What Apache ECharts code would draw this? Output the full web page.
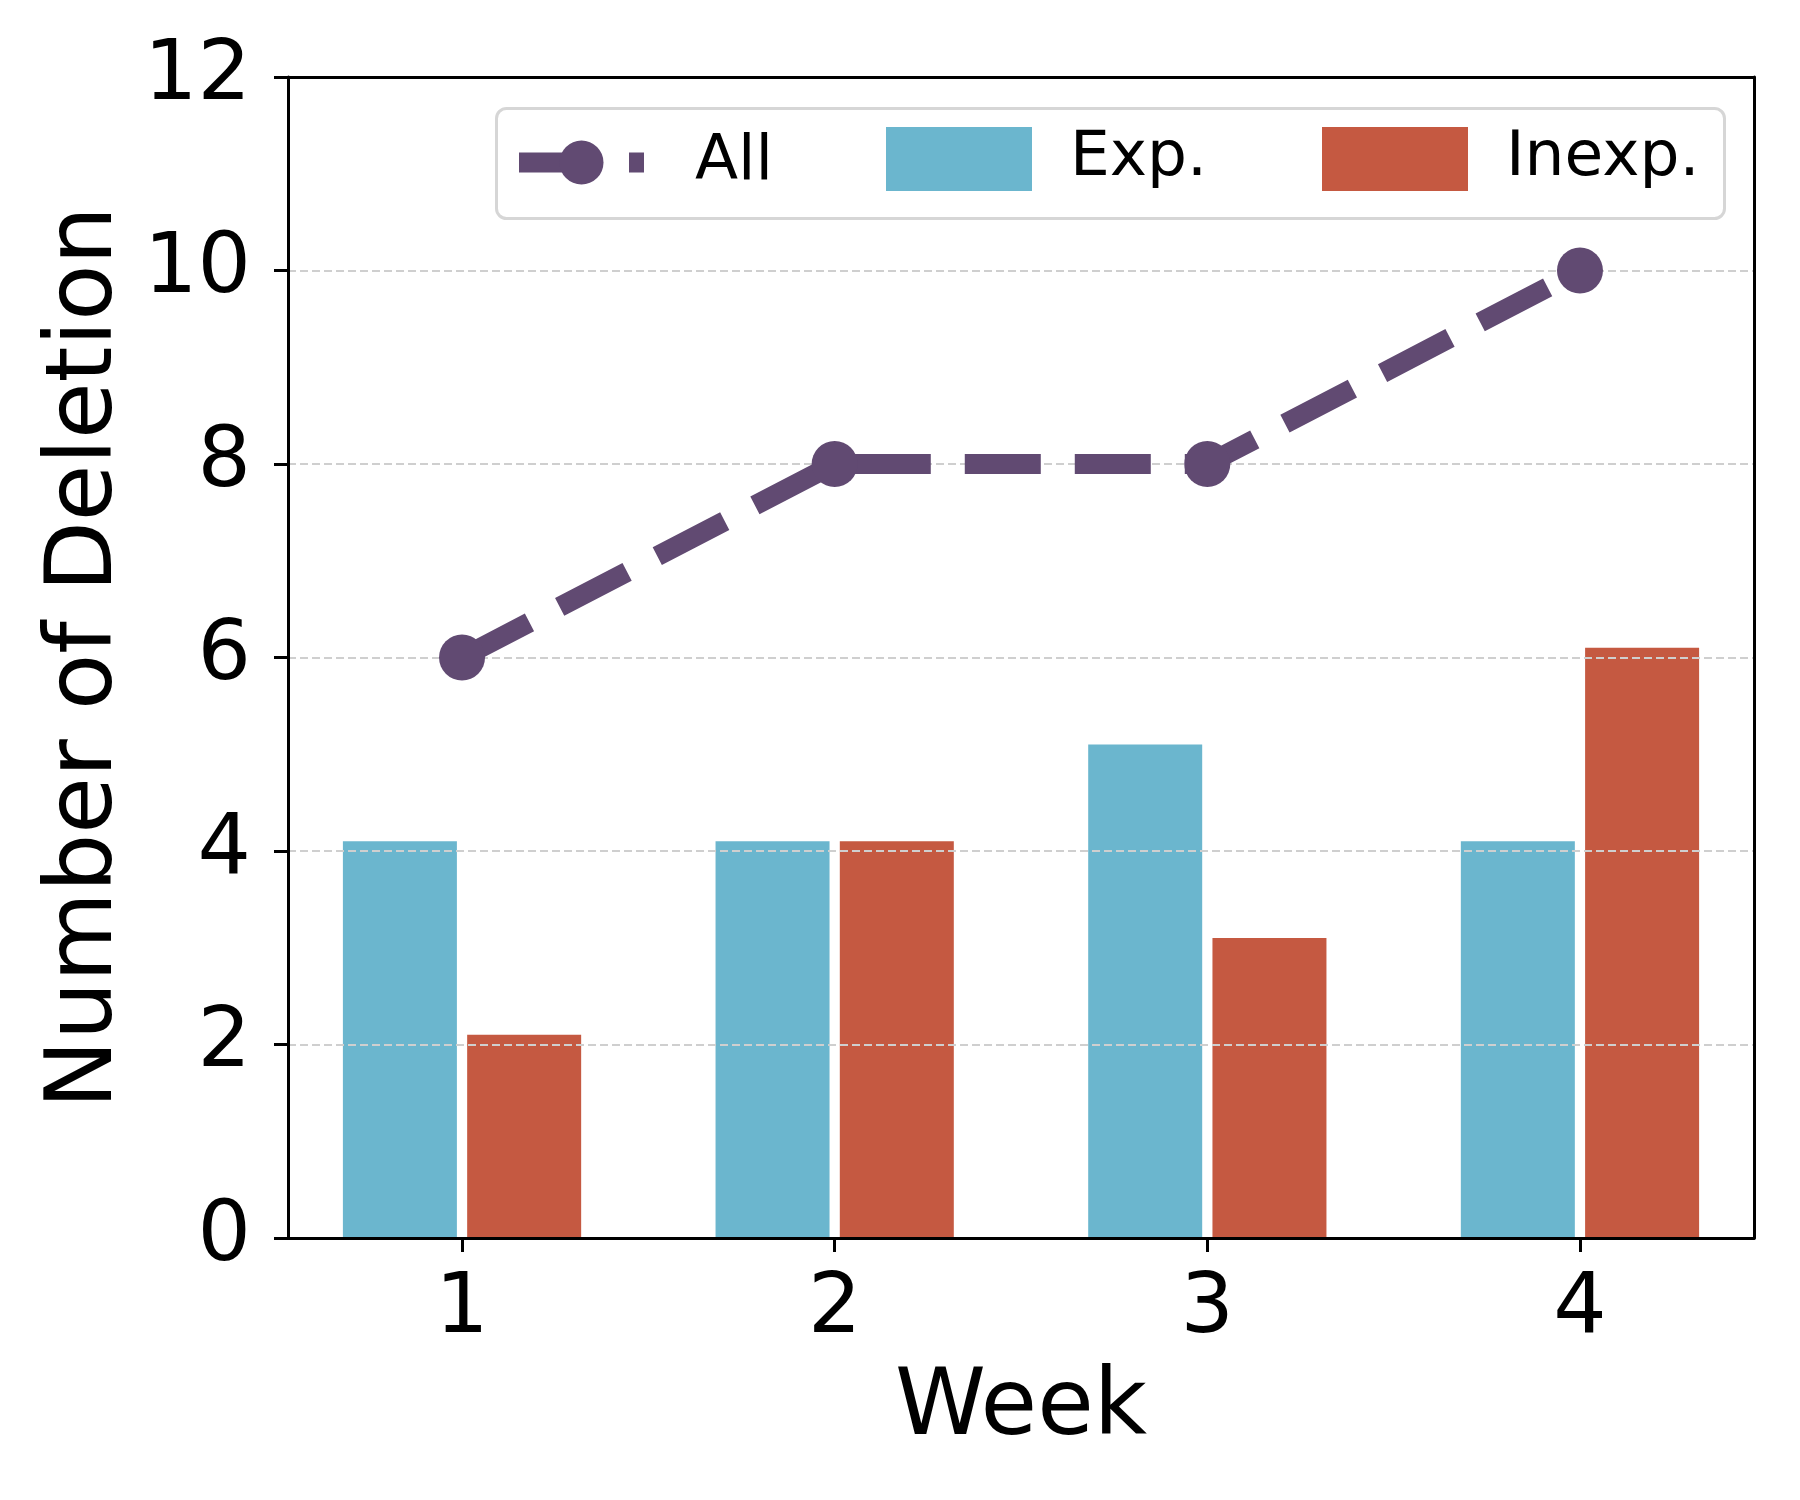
<!DOCTYPE html>
<html><head><meta charset="utf-8">
<script src="https://cdn.jsdelivr.net/npm/echarts@6/dist/echarts.min.js"></script>
<style>html,body{margin:0;padding:0;background:#fff}#c{width:1800px;height:1500px}</style>
</head><body><div id="c"></div>
<script>
const weeks = [1, 2, 3, 4];
const allValues = [6, 8, 8, 10];
const expValues = [4.1, 4.1, 5.1, 4.1];
const inexpValues = [2.1, 4.1, 3.1, 6.1];
const seriesNames = ['All', 'Exp.', 'Inexp.'];
const FONT = 'DejaVu Sans';
const C_ALL = '#614A72', C_EXP = '#6BB6CE', C_INEXP = '#C55941';

const chart = echarts.init(document.getElementById('c'), null, {renderer: 'canvas'});
const legendText = (pl) => ({fontFamily: FONT, fontSize: 63, color: '#000', padding: [0, 0, 0, pl]});
const frameAxisLine = {show: true, onZero: false, lineStyle: {color: '#000', width: 3}};
chart.setOption({
  backgroundColor: '#fff',
  animation: false,
  grid: {left: 288, right: 46, top: 77, bottom: 262},
  graphic: [{
    type: 'rect', left: 495, top: 107, z: 3,
    shape: {width: 1228, height: 110, r: 10},
    style: {fill: 'rgba(255,255,255,0.85)', stroke: '#d6d6d6', lineWidth: 3}
  }],
  legend: [
    {data: [seriesNames[0]], left: 509, top: 131, padding: 0, itemWidth: 125, itemHeight: 55, selectedMode: false, z: 5,
     lineStyle: {width: 20, type: [76, 34], color: C_ALL, cap: 'butt'}, textStyle: legendText(46)},
    {data: [seriesNames[1]], left: 886, top: 127, padding: 0, itemWidth: 146, itemHeight: 64, icon: 'rect', selectedMode: false, z: 5, textStyle: legendText(33)},
    {data: [seriesNames[2]], left: 1322, top: 127, padding: 0, itemWidth: 146, itemHeight: 64, icon: 'rect', selectedMode: false, z: 5, textStyle: legendText(33)}
  ],
  xAxis: [{
    type: 'value', min: 0.533, max: 4.467, z: 3,
    name: 'Week', nameLocation: 'middle', nameGap: 126,
    nameTextStyle: {fontFamily: FONT, fontSize: 92, color: '#000'},
    axisLine: frameAxisLine,
    axisTick: {show: true, length: 14, lineStyle: {color: '#000', width: 3}, customValues: weeks},
    axisLabel: {fontFamily: FONT, fontSize: 84, color: '#000', margin: 30, customValues: weeks},
    splitLine: {show: false}
  }, {
    type: 'value', position: 'top', min: 0.533, max: 4.467, z: 4,
    axisLine: frameAxisLine, axisTick: {show: false}, axisLabel: {show: false}, splitLine: {show: false}
  }],
  yAxis: [{
    type: 'value', min: 0, max: 12, interval: 2, z: 3,
    name: 'Number of Deletion', nameLocation: 'middle', nameGap: 148,
    nameTextStyle: {fontFamily: FONT, fontSize: 92, color: '#000'},
    axisLine: frameAxisLine,
    axisTick: {show: true, length: 14, lineStyle: {color: '#000', width: 3}},
    axisLabel: {fontFamily: FONT, fontSize: 84, color: '#000', margin: 37},
    splitLine: {show: true, lineStyle: {color: '#cfcfcf', width: 2, type: [8, 4]}}
  }, {
    type: 'value', position: 'right', min: 0, max: 12, interval: 2, z: 4,
    axisLine: frameAxisLine, axisTick: {show: false}, axisLabel: {show: false}, splitLine: {show: false}
  }],
  series: [
    {
      name: seriesNames[1], type: 'bar', barWidth: 114, barGap: '9%', z: 2,
      itemStyle: {color: C_EXP},
      data: weeks.map((w, i) => [w, expValues[i]])
    },
    {
      name: seriesNames[2], type: 'bar', barWidth: 114, barGap: '9%', z: 2,
      itemStyle: {color: C_INEXP},
      data: weeks.map((w, i) => [w, inexpValues[i]])
    },
    {
      name: seriesNames[0], type: 'line', z: 6,
      symbol: 'circle', symbolSize: 46,
      lineStyle: {color: C_ALL, width: 20, type: [76, 34], cap: 'butt'},
      itemStyle: {color: C_ALL},
      data: weeks.map((w, i) => [w, allValues[i]])
    }
  ]
});
</script></body></html>
